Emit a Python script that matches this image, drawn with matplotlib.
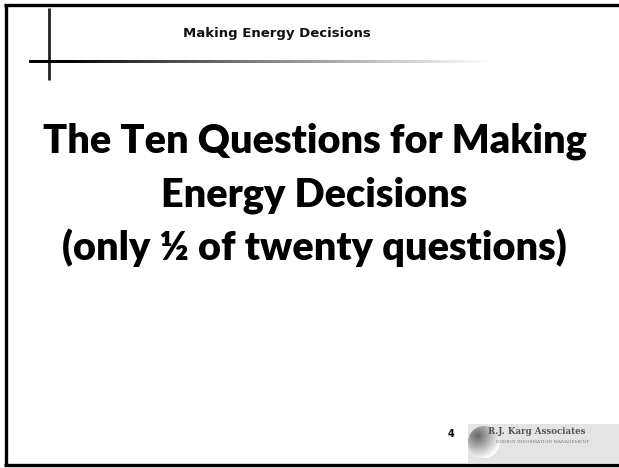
import numpy as np
import matplotlib
matplotlib.use('Agg')
import matplotlib.pyplot as plt
from matplotlib.patches import Rectangle, Circle

# slide text
header = "Making Energy Decisions"
title_lines = ["The Ten Questions for Making",
               "Energy Decisions",
               "(only ½ of twenty questions)"]
page_number = "4"
logo_name = "R.J. Karg Associates"
logo_tagline = "ENERGY INFORMATION MANAGEMENT"

W, H = 619, 468
fig = plt.figure(figsize=(W / 100, H / 100), dpi=100)
ax = fig.add_axes([0, 0, 1, 1])
ax.set_xlim(0, W)
ax.set_ylim(H, 0)
ax.axis('off')

# frame (right edge is cropped off in the original)
ax.plot([5.5, 5.5], [4, 465], color='black', lw=2.4, solid_capstyle='butt')
ax.plot([4, W], [4.5, 4.5], color='black', lw=2.4, solid_capstyle='butt')
ax.plot([4, W], [464.5, 464.5], color='black', lw=2.4, solid_capstyle='butt')

# header cross: vertical bar + fading horizontal rule
ax.plot([48.5, 48.5], [8, 80], color='#222222', lw=2.0, solid_capstyle='butt')
grad = np.linspace(0, 1, 256) ** 0.8
grad = np.vstack([grad, grad])
ax.imshow(grad, cmap='gray', vmin=0.13, vmax=1.0, aspect='auto',
          extent=[29, 495, 63.5, 60.5], zorder=2)

ax.text(W / 2 - 33, 33, header, ha='center', va='center',
        fontsize=9.5, fontweight='bold', family='DejaVu Sans', color='#111111')

# big title
for i, line in enumerate(title_lines):
    ax.text(W / 2 + 5, 152 + i * 54, line, ha='center', va='baseline',
            fontsize=28.5, fontweight='heavy', family='Lato', color='black')

# page number
ax.text(451, 434, page_number, ha='center', va='center',
        fontsize=7, fontweight='bold', color='black')

# logo box
ax.add_patch(Rectangle((468, 424), W - 468, 39, facecolor='#e4e4e4',
                       edgecolor='none', zorder=1))
yy, xx = np.mgrid[-1:1:64j, -1:1:64j]
shade = np.clip(0.4 + 0.4 * np.sqrt((xx + 0.4) ** 2 + (yy + 0.4) ** 2), 0, 1)
im = ax.imshow(shade, cmap='gray', vmin=0, vmax=1,
               extent=[468, 500, 458, 426], zorder=3)
im.set_clip_path(Circle((484, 442), 16, transform=ax.transData))
ax.text(488, 432, logo_name, ha='left', va='center', fontsize=6.2,
        family='DejaVu Serif', fontweight='bold', color='#555555', zorder=4)
ax.text(496, 442, logo_tagline, ha='left', va='center', fontsize=3.2,
        family='DejaVu Serif', color='#777777', zorder=4)

fig.savefig('out.png', dpi=100)
